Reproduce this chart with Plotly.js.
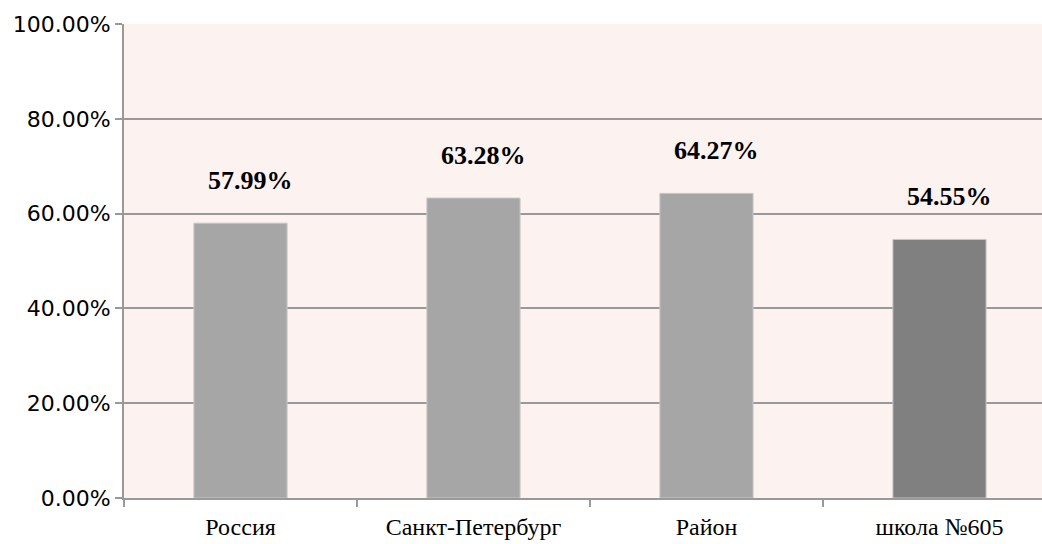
<!DOCTYPE html>
<html>
<head>
<meta charset="utf-8">
<script src="https://cdn.plot.ly/plotly-3.0.1.min.js"></script>
<style>
  body { margin: 0; background: #fff; }
  #plot { width: 1042px; height: 544px; }
</style>
</head>
<body>
<div id="plot"></div>
<script>
const categories = ['Россия', 'Санкт-Петербург', 'Район', 'школа №605'];
const values = [0.5799, 0.6328, 0.6427, 0.5455];
const barColors = ['#a6a6a6', '#a6a6a6', '#a6a6a6', '#808080'];
const yTickVals = [0, 0.2, 0.4, 0.6, 0.8, 1];
const yTickText = ['0.00%', '20.00%', '40.00%', '60.00%', '80.00%', '100.00%'];

const serif = 'Liberation Serif, serif';
const sans = 'DejaVu Sans, sans-serif';

const trace = {
    x: categories,
    y: values,
    type: 'bar',
    width: 0.4,
    marker: { color: barColors, line: { color: '#c8c8c8', width: 1 } },
    hoverinfo: 'none'
};

// data labels sit well above the bars, as in the original
const annotations = categories.map((c, i) => ({
    x: c,
    y: values[i],
    text: '<b>' + (values[i] * 100).toFixed(2) + '%</b>',
    showarrow: false,
    yshift: 43,
    xshift: 10,
    font: { family: serif, size: 26, color: '#000' }
}));

const layout = {
    width: 1042,
    height: 544,
    margin: { l: 124, r: 0, t: 24, b: 46 },
    paper_bgcolor: '#ffffff',
    plot_bgcolor: '#fcf2f0',
    showlegend: false,
    bargap: 0.6,
    font: { family: serif, size: 24, color: '#000' },
    xaxis: {
        type: 'category',
        range: [-0.5, 3.44],
        showgrid: false,
        showline: true,
        linecolor: '#999999',
        linewidth: 2,
        ticks: 'outside',
        tickson: 'boundaries',
        ticklen: 7,
        tickwidth: 2,
        tickcolor: '#999999',
        ticklabelstandoff: 6,
        tickfont: { family: serif, size: 24, color: '#000' }
    },
    yaxis: {
        range: [0, 1],
        tickvals: yTickVals,
        ticktext: yTickText,
        showgrid: true,
        gridcolor: '#999999',
        gridwidth: 2,
        zeroline: false,
        showline: true,
        linecolor: '#999999',
        linewidth: 2,
        ticks: 'outside',
        ticklen: 7,
        tickwidth: 2,
        tickcolor: '#999999',
        tickfont: { family: sans, size: 22, color: '#000' }
    },
    annotations: annotations
};

Plotly.newPlot('plot', [trace], layout, { displayModeBar: false, staticPlot: true });
</script>
</body>
</html>
